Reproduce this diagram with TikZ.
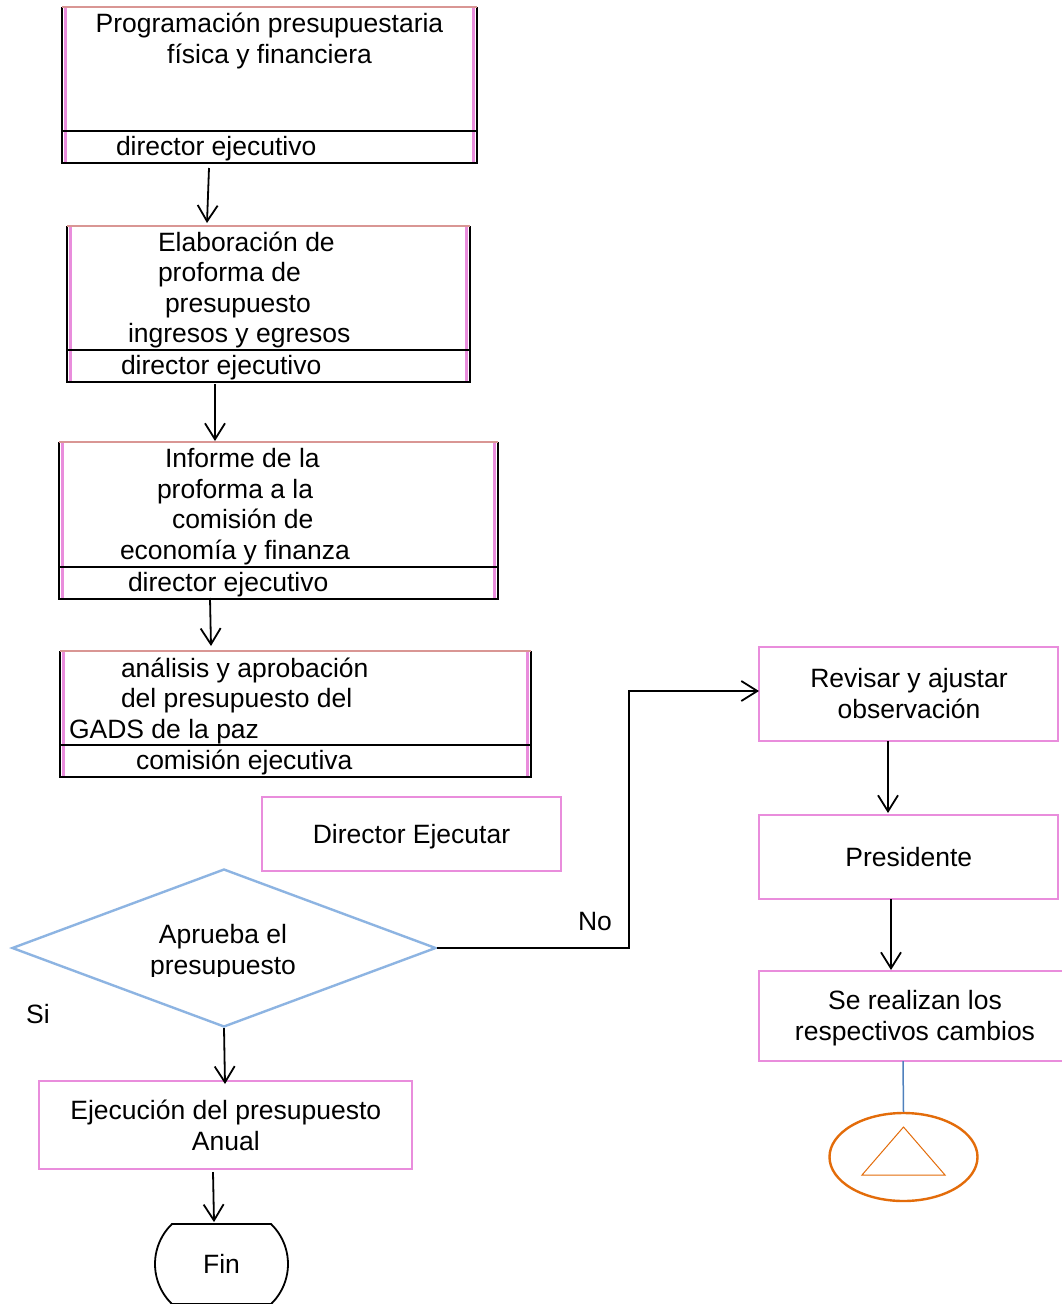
\documentclass[tikz,border=0pt]{standalone}
\usepackage{fontspec}
\setmainfont{Liberation Sans}
\usetikzlibrary{arrows.meta,shapes.geometric,shapes.misc}

\definecolor{pinkline}{RGB}{233,141,220}
\definecolor{salmon}{RGB}{217,150,148}
\definecolor{diablue}{RGB}{141,180,226}
\definecolor{steel}{RGB}{79,129,189}
\definecolor{orangeline}{RGB}{227,108,10}

\tikzset{
  txt/.style={inner sep=0pt, outer sep=0pt, font=\fontsize{26.5pt}{30.4pt}\selectfont},
  arr/.style={-{Straight Barb[length=16pt,width=20pt,line width=1.8pt]}, line width=1.8pt, black},
  edge/.style={line width=1.8pt, black},
  pinkband/.style={line width=3.5pt, pinkline},
  topedge/.style={line width=1.6pt, salmon},
  pinkbox/.style={draw=pinkline, line width=2pt, fill=white, inner sep=0pt, outer sep=0pt},
  spacer/.style={inner sep=0pt, outer sep=0pt, fill=white}
}

% box with a role row underneath: #1 name, #2 left, #3 top, #4 divider, #5 right, #6 bottom,
% #7 centre x, #8 centre y, #9 width; the height is passed through \roleboxheight
\newcommand\roleboxheight{0}
\newcommand\rolebox[9]{%
  \node[spacer, minimum width=#9pt, minimum height=\roleboxheight pt] (#1) at (#7,#8) {};
  \draw[pinkband] (#2+3.6,#3) -- (#2+3.6,#6);
  \draw[pinkband] (#5-3.6,#3) -- (#5-3.6,#6);
  \draw[edge] (#2,#3) -- (#2,#6) -- (#5,#6) -- (#5,#3);
  \draw[edge] (#2,#4) -- (#5,#4);
  \draw[topedge] (#2,#3) -- (#5,#3);
}

\begin{document}
\begin{tikzpicture}[x=1pt,y=-1pt]
\useasboundingbox (0,0) rectangle (1062,1304);
\fill[white] (0,0) rectangle (1062,1304);

% ---- left column: boxes with a responsible role ----
% (multi-line texts are placed by the baseline of their last line)
\renewcommand\roleboxheight{156}
\rolebox{b1}{62}{7}{131}{477}{163}{269.5}{85}{415}
\node[txt, anchor=base, align=center] (b1t) at (269.5,63) {Programación presupuestaria\\física y financiera};
\node[txt, anchor=base west] (b1r) at (116,155.5) {director ejecutivo};

\renewcommand\roleboxheight{156}
\rolebox{b2}{67}{226}{350}{470}{382}{268.5}{304}{403}
\node[txt, anchor=base west, align=left] (b2t) at (128,342.5)
  {\hspace*{30pt}Elaboración de\\\hspace*{30pt}proforma de\\\hspace*{37pt}presupuesto\\ingresos y egresos};
\node[txt, anchor=base west] (b2r) at (121,374.5) {director ejecutivo};

\renewcommand\roleboxheight{157}
\rolebox{b3}{59}{442}{567}{498}{599}{278.5}{520.5}{439}
\node[txt, anchor=base west, align=left] (b3t) at (120,559)
  {\hspace*{45pt}Informe de la\\\hspace*{37pt}proforma a la\\\hspace*{52pt}comisión de\\economía y finanza};
\node[txt, anchor=base west] (b3r) at (128,591.5) {director ejecutivo};

\renewcommand\roleboxheight{126}
\rolebox{b4}{60}{651}{745}{531}{777}{295.5}{714}{471}
\node[txt, anchor=base west, align=left] (b4t) at (69,738)
  {\hspace*{52pt}análisis y aprobación\\\hspace*{52pt}del presupuesto del\\GADS de la paz};
\node[txt, anchor=base west] (b4r) at (136,769) {comisión ejecutiva};

\node[pinkbox, minimum width=299pt, minimum height=74pt] (dir) at (411.5,834) {};
\node[txt, anchor=base] (dirt) at (411.5,843.7) {Director Ejecutar};

% ---- decision ----
\node[diamond, draw=diablue, line width=2.4pt, fill=white, minimum width=424pt, minimum height=158pt, inner sep=0pt] (dec) at (224,948) {};
\begin{scope}
  \clip (100,900) rectangle (350,976);
  \node[txt, anchor=base, align=center] (dect) at (223,974) {Aprueba el\\presupuesto};
\end{scope}
\node[txt] (si) at (38,1014) {Si};
\node[txt] (no) at (595,922) {No};

\node[pinkbox, minimum width=373pt, minimum height=88pt] (eje) at (225.5,1125) {};
\node[txt, anchor=base, align=center] (ejet) at (225.8,1150.3) {Ejecución del presupuesto\\Anual};
\node[rounded rectangle, rounded rectangle arc length=92, draw=black, line width=1.8pt, fill=white,
  minimum width=133pt, minimum height=80pt, inner sep=0pt, font=\fontsize{26.5pt}{30.4pt}\selectfont] (fin) at (221.5,1264) {Fin};

% ---- right column ----
\node[pinkbox, minimum width=299pt, minimum height=94pt] (rev) at (908.5,694) {};
\node[txt, anchor=base, align=center] (revt) at (909,718) {Revisar y ajustar\\observación};
\node[pinkbox, minimum width=299pt, minimum height=84pt] (pre) at (908.5,857) {};
\node[txt, anchor=base] (pret) at (908.8,866.7) {Presidente};
\node[pinkbox, minimum width=307pt, minimum height=90pt] (cam) at (912.5,1016) {};
\node[txt, anchor=base, align=center] (camt) at (915,1040.3) {Se realizan los\\respectivos cambios};
\node[ellipse, draw=orangeline, line width=2.4pt, fill=white, minimum width=148pt, minimum height=88pt, inner sep=0pt] (ret) at (903.5,1157) {};
\draw[orangeline, line width=1pt] ([shift={(0,-30)}]ret.center) -- ([shift={(41.5,18)}]ret.center) -- ([shift={(-41.5,18)}]ret.center) -- cycle;

% ---- connectors ----
\draw[arr] ([shift={(-60.5,5)}]b1.south) -- ([shift={(-61.5,-3)}]b2.north);
\draw[arr] ([shift={(-53.5,2)}]b2.south) -- ([shift={(-63.5,-1)}]b3.north);
\draw[arr] ([shift={(-68.5,-1)}]b3.south) -- ([shift={(-84.5,-5)}]b4.north);
\draw[arr] (dec.south) -- ([shift={(-0.5,3)}]eje.north);
\draw[arr] ([shift={(-12.5,3)}]eje.south) -- ([shift={(-7.5,-1)}]fin.north);
\draw[arr] (dec.east) -- ++(192,0) |- ([yshift=3pt]rev.west);
\draw[arr] ([xshift=-20.5pt]rev.south) -- ([shift={(-20.5,-2)}]pre.north);
\draw[arr] ([xshift=-17.5pt]pre.south) -- ([shift={(-21.5,-1)}]cam.north);
\draw[steel, line width=1.5pt] ([xshift=-9.5pt]cam.south) -- (ret.north);
\end{tikzpicture}
\end{document}
